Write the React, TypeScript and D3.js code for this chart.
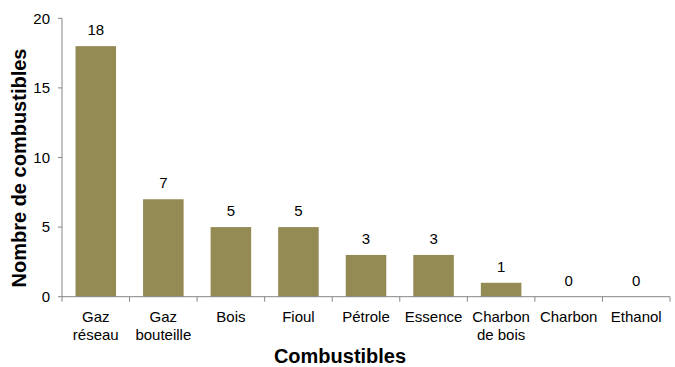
import React from "react";
import * as d3 from "d3";

const categories: string[][] = [
  ["Gaz", "réseau"],
  ["Gaz", "bouteille"],
  ["Bois"],
  ["Fioul"],
  ["Pétrole"],
  ["Essence"],
  ["Charbon", "de bois"],
  ["Charbon"],
  ["Ethanol"],
];
const values: number[] = [18, 7, 5, 5, 3, 3, 1, 0, 0];
const yTicks: number[] = [0, 5, 10, 15, 20];

const W = 675;
const H = 367;
const left = 62;
const right = 670;
const top = 18.3;
const bottom = 296.7;
const font = "'Liberation Sans', Arial, sans-serif";
const axisColor = "#868686";
const barColor = "#948A54";

export default function App() {
  const keys = categories.map((c) => c.join(" "));
  const x = d3.scaleBand<string>().domain(keys).range([left, right]).paddingInner(0.4).paddingOuter(0.2);
  const y = d3.scaleLinear().domain([0, 20]).range([bottom, top]);
  const step = x.step();
  const boundaries = d3.range(keys.length + 1).map((i) => left + i * step);
  const cx = (k: string) => (x(k) as number) + x.bandwidth() / 2;

  return (
    <svg width={W} height={H} style={{ position: "absolute", left: 0, top: 0 }} fontFamily={font}>
      <rect width={W} height={H} fill="#fff" />
      {values.map((v, i) => (
        <g key={keys[i]}>
          {v > 0 && (
            <rect x={x(keys[i])} y={y(v)} width={x.bandwidth()} height={y(0) - y(v)} fill={barColor} />
          )}
          <text x={cx(keys[i])} y={y(v) - 11} textAnchor="middle" fontSize={15} fill="#000">
            {v}
          </text>
        </g>
      ))}
      {/* y axis */}
      <line x1={left} x2={left} y1={top} y2={bottom} stroke={axisColor} />
      {yTicks.map((t) => (
        <g key={t}>
          <line x1={left - 4} x2={left} y1={y(t)} y2={y(t)} stroke={axisColor} />
          <text x={left - 12} y={y(t) + 5.3} textAnchor="end" fontSize={15} fill="#000">
            {t}
          </text>
        </g>
      ))}
      {/* x axis */}
      <line x1={left} x2={right} y1={bottom} y2={bottom} stroke={axisColor} />
      {boundaries.map((b, i) => (
        <line key={i} x1={b} x2={b} y1={bottom} y2={bottom + 5} stroke={axisColor} />
      ))}
      {categories.map((lines, i) => (
        <text key={keys[i]} x={cx(keys[i])} y={321.7} textAnchor="middle" fontSize={15} fill="#000">
          {lines.map((l, j) => (
            <tspan key={j} x={cx(keys[i])} dy={j === 0 ? 0 : 18.3}>
              {l}
            </tspan>
          ))}
        </text>
      ))}
      <text x={340} y={362.5} textAnchor="middle" fontSize={20} fontWeight="bold" fill="#000">
        Combustibles
      </text>
      <text
        transform={`translate(26, 168) rotate(-90)`}
        textAnchor="middle"
        fontSize={20}
        fontWeight="bold"
        fill="#000"
      >
        Nombre de combustibles
      </text>
    </svg>
  );
}
